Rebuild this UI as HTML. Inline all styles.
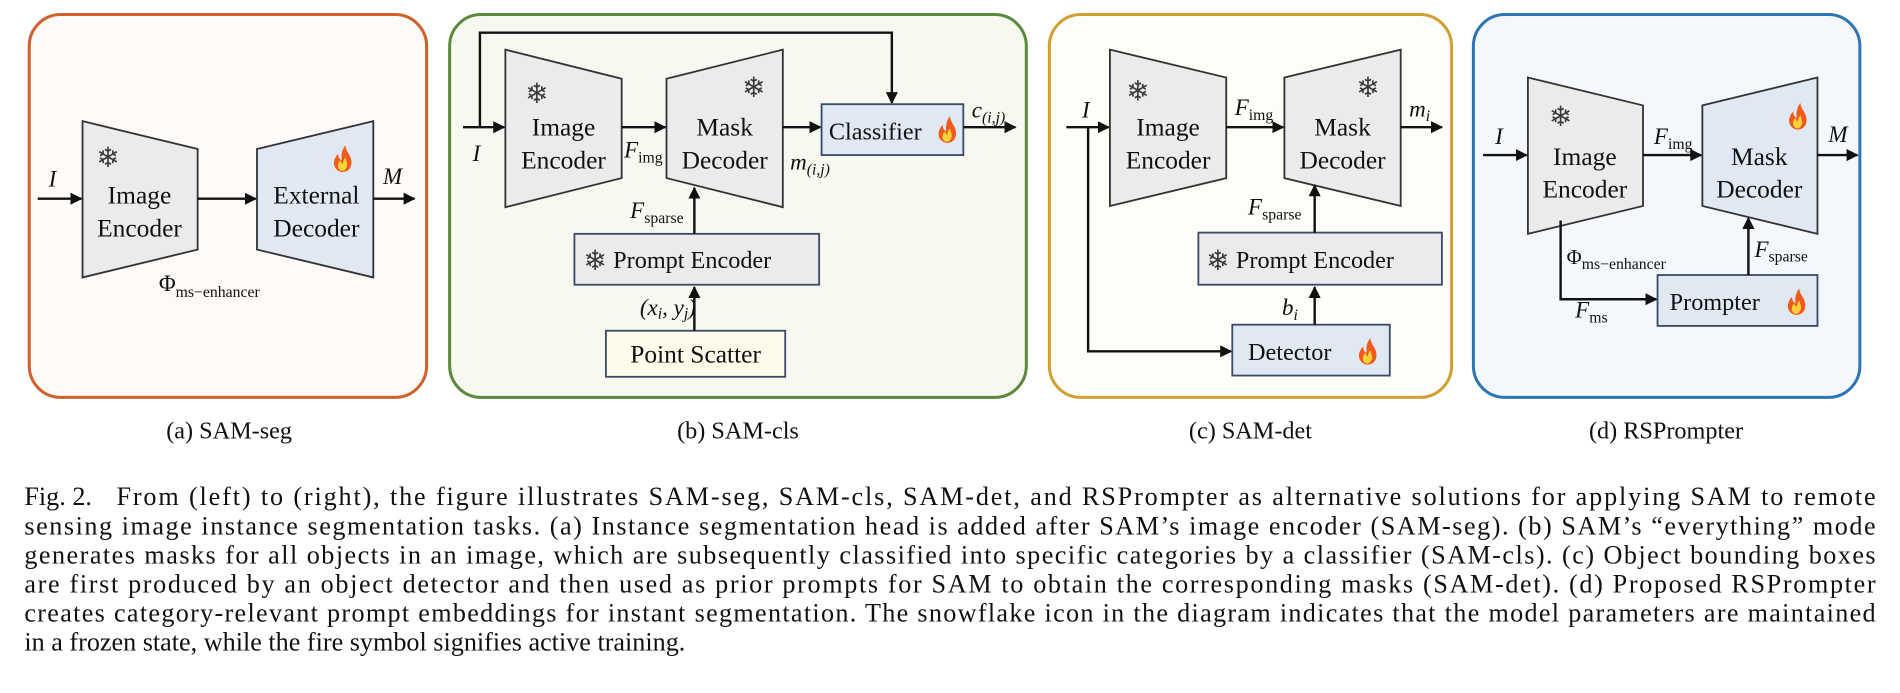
<!DOCTYPE html>
<html><head><meta charset="utf-8"><style>
html,body{margin:0;padding:0;background:#fff;}
svg{display:block;}
text{font-family:"Liberation Serif",serif;fill:#111;}
.t{font-size:21px;text-anchor:middle;}
.i{font-style:italic;font-size:19px;}
.s{font-size:13px;}
.cap{font-size:21.6px;}
.sn{font-size:23px;text-anchor:middle;fill:#3a3a3a;}
.tr{stroke:#333;stroke-width:1.5;}
.ln{stroke:#111;stroke-width:2;fill:none;}
</style></head><body>
<svg width="1900" height="693" viewBox="0 0 1568 572" xmlns="http://www.w3.org/2000/svg">
<defs>
<marker id="a" viewBox="0 0 10 10" refX="9" refY="5" markerWidth="5" markerHeight="5" orient="auto"><path d="M0,0L10,5L0,10z" fill="#111"/></marker>
<symbol id="fire" viewBox="-10 -12 20 24" overflow="visible"><path d="M0,11C-8,9-8,1-3,-4C-3,0-1,1 0,1C-1,-4 1,-9 3,-11C3,-6 8,-3 8,3C8,8 5,11 0,11Z" fill="#f05a1a"/><path d="M0,10C-4,9-4,4-1,1C-1,4 1,4 1,4C1,2 2,0 3,-1C4,3 5,5 4,7C3,9 2,10 0,10Z" fill="#ffd23a"/></symbol>
</defs>
<rect x="24" y="12" width="328" height="316" rx="26" fill="#fefaf8" stroke="#d0612a" stroke-width="2.5"/>
<rect x="371" y="12" width="476" height="316" rx="26" fill="#f7f9f1" stroke="#5b8a3c" stroke-width="2.5"/>
<rect x="866" y="12" width="332" height="316" rx="26" fill="#fffdf7" stroke="#d2a032" stroke-width="2.5"/>
<rect x="1216" y="12" width="319" height="316" rx="26" fill="#f4f8fc" stroke="#2e75b6" stroke-width="2.5"/>

<!-- (a) -->
<polygon class="tr" points="68,100 163,123 163,206 68,229" fill="#ebebeb"/>
<polygon class="tr" points="212,123 308,100 308,229 212,206" fill="#dfe8f3"/>
<text class="t" x="115" y="168">Image</text><text class="t" x="115" y="195">Encoder</text>
<text class="t" x="261" y="168">External</text><text class="t" x="261" y="195">Decoder</text>
<text class="sn" x="89" y="138">❄</text>
<use href="#fire" x="272" y="119" width="20" height="24"/>
<line class="ln" x1="31" y1="164" x2="67" y2="164" marker-end="url(#a)"/>
<line class="ln" x1="163" y1="164" x2="211" y2="164" marker-end="url(#a)"/>
<line class="ln" x1="308" y1="164" x2="342" y2="164" marker-end="url(#a)"/>
<text class="i" x="40" y="154">I</text><text class="i" x="316" y="152">M</text>
<text x="131" y="240" font-size="19">Φ<tspan class="s" dy="5">ms−enhancer</tspan></text>

<!-- (b) -->
<polygon class="tr" points="417,41 513,65 513,147 417,171" fill="#ebebeb"/>
<polygon class="tr" points="550,65 646,41 646,171 550,147" fill="#ebebeb"/>
<text class="t" x="465" y="112">Image</text><text class="t" x="465" y="139">Encoder</text>
<text class="t" x="598" y="112">Mask</text><text class="t" x="598" y="139">Decoder</text>
<text class="sn" x="443" y="85">❄</text>
<text class="sn" x="622" y="80">❄</text>
<path class="ln" d="M382,105H396V27H736V85" marker-end="url(#a)"/>
<line class="ln" x1="396" y1="105" x2="416" y2="105" marker-end="url(#a)"/>
<line class="ln" x1="513" y1="105" x2="549" y2="105" marker-end="url(#a)"/>
<line class="ln" x1="646" y1="105" x2="677" y2="105" marker-end="url(#a)"/>
<rect x="678" y="86" width="117" height="42" fill="#dfe8f3" stroke="#3a4a6a" stroke-width="1.5"/>
<text x="684" y="115" font-size="20">Classifier</text>
<use href="#fire" x="771" y="94" width="20" height="26"/>
<line class="ln" x1="795" y1="105" x2="838" y2="105" marker-end="url(#a)"/>
<text class="i" x="802" y="97" font-size="16">c<tspan class="s" dy="4">(i,j)</tspan></text>
<text class="i" x="652" y="140" font-size="16">m<tspan class="s" dy="4">(i,j)</tspan></text>
<text class="i" x="390" y="133">I</text>
<text class="i" x="515" y="130" font-size="17">F<tspan class="s" dy="4" style="font-style:normal">img</tspan></text>
<rect x="474" y="193" width="202" height="42" fill="#ebebeb" stroke="#3a4a6a" stroke-width="1.5"/>
<text class="sn" x="491" y="223" font-size="20">❄</text>
<text x="506" y="221" font-size="20">Prompt Encoder</text>
<line class="ln" x1="573" y1="193" x2="573" y2="155" marker-end="url(#a)"/>
<text class="i" x="520" y="180" font-size="17">F<tspan class="s" dy="4" style="font-style:normal">sparse</tspan></text>
<rect x="500" y="273" width="148" height="38" fill="#fdfbea" stroke="#3a4a6a" stroke-width="1.5"/>
<text class="t" x="574" y="299" font-size="20">Point Scatter</text>
<line class="ln" x1="573" y1="273" x2="573" y2="237" marker-end="url(#a)"/>
<text class="i" x="528" y="260" font-size="17">(x<tspan class="s" dy="3">i</tspan><tspan dy="-3">, y</tspan><tspan class="s" dy="3">j</tspan><tspan dy="-3">)</tspan></text>

<!-- (c) -->
<polygon class="tr" points="916,41 1012,64 1012,147 916,170" fill="#ebebeb"/>
<polygon class="tr" points="1060,64 1156,41 1156,170 1060,147" fill="#ebebeb"/>
<text class="t" x="964" y="112">Image</text><text class="t" x="964" y="139">Encoder</text>
<text class="t" x="1108" y="112">Mask</text><text class="t" x="1108" y="139">Decoder</text>
<text class="sn" x="939" y="83">❄</text>
<text class="sn" x="1129" y="80">❄</text>
<line class="ln" x1="880" y1="105" x2="915" y2="105" marker-end="url(#a)"/>
<path class="ln" d="M898,105V290H1016" marker-end="url(#a)"/>
<text class="i" x="893" y="97">I</text>
<line class="ln" x1="1012" y1="105" x2="1059" y2="105" marker-end="url(#a)"/>
<line class="ln" x1="1156" y1="105" x2="1190" y2="105" marker-end="url(#a)"/>
<text class="i" x="1019" y="95" font-size="17">F<tspan class="s" dy="4" style="font-style:normal">img</tspan></text>
<text class="i" x="1163" y="96" font-size="17">m<tspan class="s" dy="4">i</tspan></text>
<rect x="989" y="192" width="201" height="43" fill="#ebebeb" stroke="#3a4a6a" stroke-width="1.5"/>
<text class="sn" x="1005" y="223" font-size="20">❄</text>
<text x="1020" y="221" font-size="20">Prompt Encoder</text>
<line class="ln" x1="1085" y1="192" x2="1085" y2="153" marker-end="url(#a)"/>
<text class="i" x="1030" y="177" font-size="17">F<tspan class="s" dy="4" style="font-style:normal">sparse</tspan></text>
<rect x="1017" y="268" width="130" height="42" fill="#dfe8f3" stroke="#3a4a6a" stroke-width="1.5"/>
<text x="1030" y="297" font-size="20">Detector</text>
<use href="#fire" x="1118" y="277" width="20" height="26"/>
<line class="ln" x1="1085" y1="268" x2="1085" y2="237" marker-end="url(#a)"/>
<text class="i" x="1058" y="260" font-size="17">b<tspan class="s" dy="4">i</tspan></text>

<!-- (d) -->
<polygon class="tr" points="1261,64 1356,87 1356,170 1261,193" fill="#ebebeb"/>
<polygon class="tr" points="1405,87 1500,64 1500,193 1405,170" fill="#dfe8f3"/>
<text class="t" x="1308" y="136">Image</text><text class="t" x="1308" y="163">Encoder</text>
<text class="t" x="1452" y="136">Mask</text><text class="t" x="1452" y="163">Decoder</text>
<text class="sn" x="1288" y="104">❄</text>
<use href="#fire" x="1473" y="83" width="20" height="26"/>
<line class="ln" x1="1224" y1="128" x2="1260" y2="128" marker-end="url(#a)"/>
<line class="ln" x1="1356" y1="128" x2="1404" y2="128" marker-end="url(#a)"/>
<line class="ln" x1="1500" y1="128" x2="1533" y2="128" marker-end="url(#a)"/>
<text class="i" x="1234" y="119">I</text><text class="i" x="1509" y="117">M</text>
<text class="i" x="1365" y="119" font-size="17">F<tspan class="s" dy="4" style="font-style:normal">img</tspan></text>
<path class="ln" d="M1288,182V247H1367" marker-end="url(#a)"/>
<text x="1293" y="218" font-size="17">Φ<tspan class="s" dy="4">ms−enhancer</tspan></text>
<text class="i" x="1300" y="262" font-size="17">F<tspan class="s" dy="4" style="font-style:normal">ms</tspan></text>
<rect x="1368" y="227" width="132" height="42" fill="#dfe8f3" stroke="#3a4a6a" stroke-width="1.5"/>
<text x="1378" y="256" font-size="20">Prompter</text>
<use href="#fire" x="1472" y="236" width="20" height="26"/>
<line class="ln" x1="1443" y1="227" x2="1443" y2="180" marker-end="url(#a)"/>
<text class="i" x="1448" y="212" font-size="17">F<tspan class="s" dy="4" style="font-style:normal">sparse</tspan></text>

<text x="189" y="362" font-size="20" text-anchor="middle">(a) SAM-seg</text>
<text x="609" y="362" font-size="20" text-anchor="middle">(b) SAM-cls</text>
<text x="1032" y="362" font-size="20" text-anchor="middle">(c) SAM-det</text>
<text x="1375" y="362" font-size="20" text-anchor="middle">(d) RSPrompter</text>

<text class="cap" x="20" y="417">Fig. 2.</text>
<text class="cap" x="96" y="417" textLength="1452" lengthAdjust="spacing">From (left) to (right), the figure illustrates SAM-seg, SAM-cls, SAM-det, and RSPrompter as alternative solutions for applying SAM to remote</text>
<text class="cap" x="20" y="441" textLength="1528" lengthAdjust="spacing">sensing image instance segmentation tasks. (a) Instance segmentation head is added after SAM’s image encoder (SAM-seg). (b) SAM’s “everything” mode</text>
<text class="cap" x="20" y="465" textLength="1528" lengthAdjust="spacing">generates masks for all objects in an image, which are subsequently classified into specific categories by a classifier (SAM-cls). (c) Object bounding boxes</text>
<text class="cap" x="20" y="489" textLength="1528" lengthAdjust="spacing">are first produced by an object detector and then used as prior prompts for SAM to obtain the corresponding masks (SAM-det). (d) Proposed RSPrompter</text>
<text class="cap" x="20" y="513" textLength="1528" lengthAdjust="spacing">creates category-relevant prompt embeddings for instant segmentation. The snowflake icon in the diagram indicates that the model parameters are maintained</text>
<text class="cap" x="20" y="537">in a frozen state, while the fire symbol signifies active training.</text>
</svg>
</body></html>
